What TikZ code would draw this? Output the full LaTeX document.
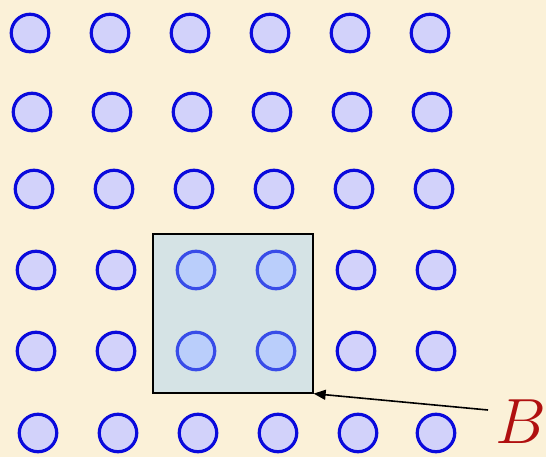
\documentclass[tikz,border=0pt]{standalone}
\usetikzlibrary{arrows.meta}
\definecolor{bgc}{HTML}{FBF1D8}
\definecolor{dotfill}{HTML}{D2D2FA}
\definecolor{dotline}{HTML}{0A0ADC}
\definecolor{boxfill}{RGB}{143,201,255}
\definecolor{bred}{HTML}{B01010}
\tikzset{
  dot/.style={circle, draw=dotline, fill=dotfill, line width=3.2pt, minimum size=37.5pt, inner sep=0pt},
  hbox/.style={draw=black, line width=1.3pt, fill=boxfill, fill opacity=0.35, draw opacity=1, minimum width=160pt, minimum height=159pt, inner sep=0pt},
}
\begin{document}
\begin{tikzpicture}[x=1pt,y=-1pt]
\fill[bgc] (0,0) rectangle (546,457);
\useasboundingbox (0,0) rectangle (546,457);
\foreach \r/\y/\xa in {1/33/30, 2/112/32, 3/189/34, 4/270/36, 5/351/36, 6/433/38}{
  \foreach \c in {0,...,5}{
    \node[dot] (d\r\c) at ({\xa+80*\c - (\r==6 && \c==5 ? 2 : 0)}, \y) {};
  }
}
\node[hbox] (box) at (233,313.5) {};
\coordinate (tail) at (488,410);
\draw[line width=1.6pt, -{Triangle[length=12pt,width=10pt]}] (tail) -- (box.south east);
\node[text=bred, anchor=base west, inner sep=0pt] (lab) at (495,443) {\scalebox{2.57}{\Huge$B$}};
\end{tikzpicture}
\end{document}
